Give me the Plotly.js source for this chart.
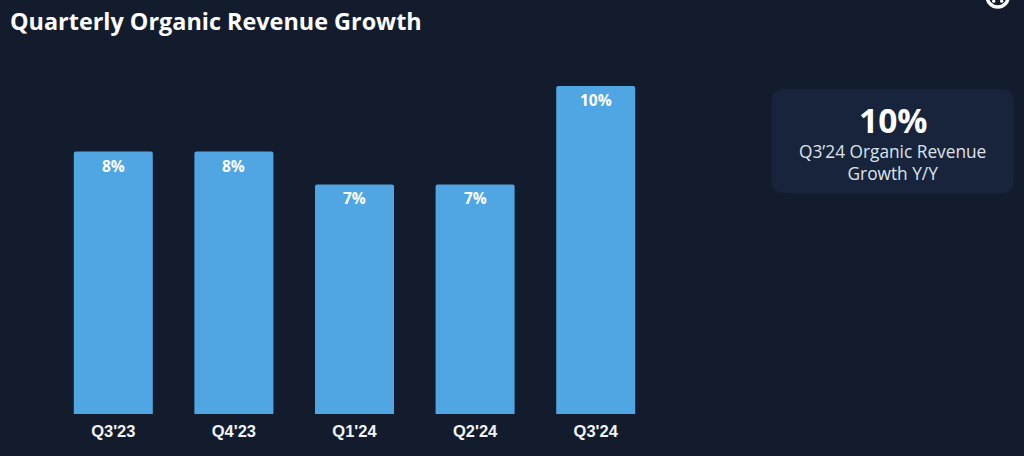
<!DOCTYPE html>
<html>
<head>
<meta charset="utf-8">
<script src="https://cdn.plot.ly/plotly-3.0.1.min.js"></script>
<style>html,body{margin:0;padding:0;background:#131c2d;overflow:hidden}#c{width:1024px;height:456px}</style>
</head>
<body>
<div id="c"></div>
<script>
const categories = ["Q3'23", "Q4'23", "Q1'24", "Q2'24", "Q3'24"];
const growth = [8, 8, 7, 7, 10];
const barLabels = ["8%", "8%", "7%", "7%", "10%"];
const chartTitle = "Quarterly Organic Revenue Growth";
const cardValue = "10%";
const cardLabel = "Q3’24 Organic Revenue<br>Growth Y/Y";

const W = 1024, H = 456;
const m = {l: 53.3, r: W - 656.3, t: 86, b: H - 414.5};
const px = x => (x - m.l) / (W - m.l - m.r);
const py = y => (H - m.b - y) / (H - m.t - m.b);
function roundRect(x0, y0, x1, y1, r) {
  return `M${px(x0 + r)},${py(y0)} L${px(x1 - r)},${py(y0)} Q${px(x1)},${py(y0)} ${px(x1)},${py(y0 + r)} ` +
         `L${px(x1)},${py(y1 - r)} Q${px(x1)},${py(y1)} ${px(x1 - r)},${py(y1)} ` +
         `L${px(x0 + r)},${py(y1)} Q${px(x0)},${py(y1)} ${px(x0)},${py(y1 - r)} ` +
         `L${px(x0)},${py(y0 + r)} Q${px(x0)},${py(y0)} ${px(x0 + r)},${py(y0)} Z`;
}
const OS = 'Open Sans, sans-serif';
const dot = (cx, cy, r) => ({type: 'circle', xref: 'paper', yref: 'paper', x0: px(cx - r), x1: px(cx + r),
  y0: py(cy + r), y1: py(cy - r), fillcolor: '#ffffff', line: {width: 0}});

const barAnnotations = categories.map((c, i) => ({
  xref: 'x', yref: 'y', x: c, y: growth[i], yanchor: 'top', yshift: -1, showarrow: false,
  text: barLabels[i], font: {family: OS, size: 15.5, color: '#ffffff', weight: 700}
}));

Plotly.newPlot('c', [{
  type: 'bar',
  x: categories,
  y: growth,
  cliponaxis: false,
  marker: {color: '#4fa6e3', cornerradius: 2, line: {width: 0}},
  hoverinfo: 'skip'
}], {
  width: W, height: H,
  margin: m,
  paper_bgcolor: '#131c2d',
  plot_bgcolor: '#131c2d',
  bargap: 0.345,
  showlegend: false,
  xaxis: {type: 'category', range: [-0.5, 4.5], showgrid: false, zeroline: false, showline: false,
          ticks: 'outside', ticklen: 2, tickcolor: 'rgba(0,0,0,0)',
          tickfont: {family: 'Liberation Sans, Arial, sans-serif', size: 16.5, color: '#f2f4f7', weight: 700}},
  yaxis: {range: [0, 10], visible: false, showgrid: false, zeroline: false},
  shapes: [
    {type: 'path', xref: 'paper', yref: 'paper', path: roundRect(772, 89, 1014, 193.5, 13),
     fillcolor: '#18243c', line: {width: 0}, layer: 'below'},
    {type: 'circle', xref: 'paper', yref: 'paper', x0: px(987.5), x1: px(1008.5), y0: py(7), y1: py(-14),
     fillcolor: 'rgba(0,0,0,0)', line: {color: '#ffffff', width: 3.5}},
    dot(994, 1, 1.6),
    dot(1002, 1, 1.6)
  ],
  annotations: barAnnotations.concat([
    {xref: 'paper', yref: 'paper', x: px(8.5), y: py(21), xanchor: 'left', yanchor: 'middle', showarrow: false,
     text: chartTitle, font: {family: OS, size: 23.4, color: '#ffffff', weight: 700}},
    {xref: 'paper', yref: 'paper', x: px(893.5), y: py(120.5), xanchor: 'center', yanchor: 'middle', showarrow: false,
     text: cardValue, font: {family: OS, size: 33.5, color: '#ffffff', weight: 700}},
    {xref: 'paper', yref: 'paper', x: px(892.5), y: py(162.5), xanchor: 'center', yanchor: 'middle', showarrow: false,
     align: 'center', text: cardLabel, font: {family: OS, size: 17.3, color: '#dde3ea'}}
  ])
}, {displayModeBar: false, staticPlot: true});
</script>
</body>
</html>
